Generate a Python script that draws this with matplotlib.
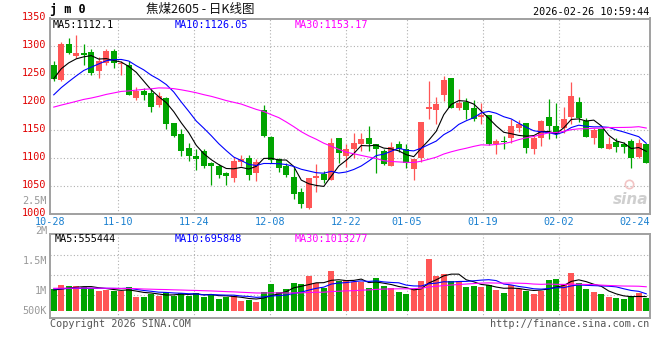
import matplotlib
matplotlib.use("Agg")
import matplotlib.pyplot as plt
import matplotlib.transforms as mtransforms
import numpy as np
import pandas as pd

plt.rcParams['font.family'] = ['DejaVu Sans Mono']

# trading days 2025-10-28 .. 2026-02-26 (new year + spring festival closed)
holidays = ['2026-01-01', '2026-01-02', '2026-02-16', '2026-02-17', '2026-02-18',
            '2026-02-19', '2026-02-20', '2026-02-23']
days = pd.bdate_range('2025-10-28', '2026-02-26')
days = days[~days.isin(pd.to_datetime(holidays))]

opens = [1266, 1239, 1304, 1283, 1288, 1290, 1256, 1271, 1292, 1268,
         1267, 1208, 1219, 1216, 1195, 1207, 1162, 1142, 1118, 1104,
         1113, 1091, 1086, 1072, 1064, 1093, 1099, 1073, 1186, 1138,
         1097, 1085, 1066, 1039, 1009, 1064, 1070, 1061, 1135, 1103,
         1115, 1125, 1136, 1124, 1112, 1086, 1125, 1115, 1079, 1100,
         1188, 1185, 1213, 1244, 1189, 1201, 1189, 1173, 1176, 1124,
         1131, 1135, 1154, 1163, 1115, 1136, 1173, 1157, 1154, 1173,
         1200, 1166, 1135, 1151, 1115, 1129, 1124, 1130, 1102, 1125]
highs = [1274, 1308, 1315, 1320, 1305, 1296, 1281, 1296, 1296, 1274,
         1273, 1227, 1225, 1225, 1218, 1210, 1163, 1151, 1127, 1115,
         1115, 1092, 1088, 1075, 1101, 1105, 1105, 1098, 1195, 1139,
         1100, 1090, 1082, 1045, 1063, 1088, 1076, 1135, 1135, 1124,
         1145, 1145, 1157, 1125, 1115, 1129, 1130, 1124, 1097, 1164,
         1237, 1210, 1246, 1244, 1224, 1207, 1204, 1198, 1176, 1133,
         1139, 1169, 1167, 1163, 1139, 1167, 1206, 1198, 1191, 1236,
         1209, 1171, 1154, 1151, 1137, 1135, 1129, 1133, 1133, 1125]
lows = [1237, 1237, 1286, 1280, 1267, 1248, 1244, 1266, 1262, 1249,
        1212, 1204, 1203, 1182, 1191, 1151, 1137, 1103, 1095, 1078,
        1081, 1052, 1064, 1052, 1057, 1085, 1061, 1059, 1138, 1090,
        1075, 1066, 1026, 1010, 1008, 1038, 1055, 1061, 1091, 1083,
        1100, 1112, 1112, 1072, 1087, 1085, 1110, 1082, 1061, 1093,
        1169, 1161, 1202, 1189, 1186, 1169, 1166, 1161, 1123, 1106,
        1115, 1126, 1146, 1109, 1106, 1122, 1133, 1135, 1145, 1161,
        1164, 1138, 1124, 1117, 1115, 1111, 1109, 1081, 1100, 1090]
closes = [1241, 1304, 1288, 1288, 1285, 1252, 1273, 1292, 1271, 1271,
          1213, 1220, 1213, 1192, 1210, 1160, 1139, 1113, 1103, 1097,
          1085, 1085, 1069, 1068, 1094, 1098, 1070, 1093, 1139, 1096,
          1082, 1070, 1035, 1017, 1063, 1067, 1061, 1127, 1108, 1115,
          1127, 1133, 1124, 1115, 1088, 1120, 1115, 1090, 1097, 1164,
          1191, 1196, 1239, 1189, 1198, 1186, 1170, 1176, 1124, 1130,
          1129, 1157, 1161, 1117, 1135, 1166, 1157, 1142, 1169, 1210,
          1171, 1138, 1150, 1118, 1125, 1120, 1120, 1100, 1127, 1091]
volumes = [920e3, 1105e3, 1062e3, 1062e3, 1019e3, 933e3, 860e3, 890e3, 847e3, 847e3,
           1032e3, 602e3, 602e3, 718e3, 632e3, 817e3, 632e3, 774e3, 632e3, 774e3,
           602e3, 718e3, 503e3, 602e3, 632e3, 430e3, 460e3, 387e3, 817e3, 1148e3,
           817e3, 933e3, 1204e3, 1148e3, 1505e3, 1204e3, 963e3, 1707e3, 1277e3, 1320e3,
           1247e3, 1247e3, 963e3, 1393e3, 1062e3, 963e3, 817e3, 718e3, 920e3, 1277e3,
           2223e3, 1505e3, 1578e3, 1277e3, 1277e3, 1006e3, 1075e3, 1006e3, 1105e3, 890e3,
           748e3, 1105e3, 933e3, 847e3, 718e3, 847e3, 1320e3, 1363e3, 1148e3, 1621e3,
           1178e3, 933e3, 804e3, 718e3, 602e3, 559e3, 503e3, 632e3, 774e3, 559e3]

# sessions before 10-28, only needed so the moving averages start filled
prev_close = [1195, 1190, 1185, 1180, 1178, 1182, 1188, 1192, 1190,
              1185, 1178, 1170, 1165, 1160, 1168, 1172, 1175, 1178, 1180, 1188,
              1175, 1180, 1185, 1188, 1192,
              1215, 1235, 1252, 1267]
prev_vol = [950e3, 1020e3, 980e3, 900e3, 1050e3, 1000e3, 930e3, 960e3, 1010e3, 990e3,
            940e3, 1030e3, 970e3, 920e3, 1000e3, 980e3, 1010e3, 950e3, 1000e3, 960e3,
            1000e3, 950e3, 1020e3, 960e3, 950e3,
            900e3, 860e3, 880e3, 890e3]

tick_labels = ['10-28', '11-10', '11-24', '12-08', '12-22', '01-05', '01-19', '02-02', '02-24']
grid_labels = ['11-10', '11-24', '12-08', '12-22', '01-05', '01-19', '02-02']
price_ticks = [1000, 1050, 1100, 1150, 1200, 1250, 1300, 1350]

RED = '#ff5656'
GREEN = '#00a400'
BLUE_TXT = '#1a80d0'
GRID = '#b0b0b0'
FRAME = '#a0a0a0'

W, H = 660, 360


def fx(px):
    return px / W


def fy(py):
    return 1 - py / H


def ma(prev, vals, n):
    s = pd.Series(list(prev) + list(vals)).rolling(n).mean().values
    return s[len(prev):]


fig = plt.figure(figsize=(6.6, 3.6), dpi=100)
ax = fig.add_axes([fx(50), fy(213.5), 600 / W, 195 / H])
axv = fig.add_axes([fx(50), fy(318.3), 600 / W, 84 / H])

n = len(closes)
x = np.arange(n)
o = np.array(opens, float)
h = np.array(highs, float)
l = np.array(lows, float)
c = np.array(closes, float)
col = np.where(c >= o, RED, GREEN)

date_str = [d.strftime('%m-%d') for d in days]
# sina spreads its date grid over n-1 steps, candles over n slots
def grid_x(lab):
    return date_str.index(lab) * n / (n - 1) - 0.5

for a in (ax, axv):
    for lab in grid_labels:
        a.axvline(grid_x(lab), color=GRID, lw=0.8, ls=(0, (1, 2)), zorder=0)
    for s in a.spines.values():
        s.set_color(FRAME)
        s.set_linewidth(1.4)
    a.set_xlim(-0.5, n - 0.5)
    a.set_xticks([])

for p in price_ticks[1:-1]:
    ax.axhline(p, color=GRID, lw=0.8, ls=(0, (1, 2)), zorder=0)

# candles
ax.vlines(x, l, h, colors=col, lw=0.9, zorder=2)
body = np.maximum(np.abs(c - o), 0.9)
ax.bar(x, body, bottom=np.minimum(o, c), width=0.8, color=col, lw=0, zorder=3)

ax.plot(x, ma(prev_close, closes, 5), color='black', lw=0.8, zorder=4)
ax.plot(x, ma(prev_close, closes, 10), color='#0000ff', lw=0.8, zorder=4)
ax.plot(x, ma(prev_close, closes, 30), color='#ff00ff', lw=0.8, zorder=4)

ax.set_ylim(1000, 1350)
ax.set_yticks(price_ticks)
ax.tick_params(axis='y', length=0, pad=3, labelcolor='#e00000', labelsize=7.3)
# labels sit a little above their grid lines, as in the original
lift = mtransforms.ScaledTranslation(0, 2 / 100, fig.dpi_scale_trans)
for t in ax.get_yticklabels():
    t.set_transform(t.get_transform() + lift)

for lab in tick_labels:
    ax.text(grid_x(lab), -0.042, lab, transform=ax.get_xaxis_transform(),
            ha='center', va='center', color=BLUE_TXT, fontsize=7.3)

ax.text(0.004, 0.965, 'MA5:1112.1', transform=ax.transAxes, color='black', fontsize=7.3, va='center')
ax.text(0.207, 0.965, 'MA10:1126.05', transform=ax.transAxes, color='#0000ff', fontsize=7.3, va='center')
ax.text(0.408, 0.965, 'MA30:1153.17', transform=ax.transAxes, color='#ff00ff', fontsize=7.3, va='center')

# sina watermark
ax.text(0.997, 0.07, 'sina', transform=ax.transAxes, ha='right', va='center',
        color='#cfcfcf', fontsize=11, fontweight='bold', fontstyle='italic',
        family=['DejaVu Sans'])
ax.plot([0.965], [0.15], transform=ax.transAxes, marker='o', ms=6,
        mfc='none', mec='#f2c4c4', mew=1.2)

# volume
v = np.array(volumes)
vol_grid = [675e3, 1.535e6, 2.395e6]
for g in vol_grid:
    axv.axhline(g, color=GRID, lw=0.8, ls=(0, (1, 2)), zorder=0)
axv.bar(x, v, width=0.8, color=col, lw=0, zorder=2)
axv.plot(x, ma(prev_vol, volumes, 5), color='black', lw=0.8, zorder=3)
axv.plot(x, ma(prev_vol, volumes, 10), color='#0000ff', lw=0.8, zorder=3)
axv.plot(x, ma(prev_vol, volumes, 30), color='#ff00ff', lw=0.8, zorder=3)
axv.set_ylim(-327e3, 3.285e6)
axv.set_yticks([])

axv.text(0.007, 0.95, 'MA5:555444', transform=axv.transAxes, color='black', fontsize=7.3, va='center')
axv.text(0.208, 0.95, 'MA10:695848', transform=axv.transAxes, color='#0000ff', fontsize=7.3, va='center')
axv.text(0.408, 0.95, 'MA30:1013277', transform=axv.transAxes, color='#ff00ff', fontsize=7.3, va='center')

for lab, py in [('2.5M', 200.7), ('2M', 230.7), ('1.5M', 260.7), ('1M', 290.7), ('500K', 310.7)]:
    fig.text(fx(47), fy(py), lab, ha='right', va='center', color='#999999', fontsize=7.3)

# header / footer
fig.text(fx(50), fy(10), 'j m 0', ha='left', va='center', fontsize=8.5, fontweight='bold', color='black')
fig.text(fx(200), fy(9.5), '焦煤2605 - 日K线图', ha='center', va='center', fontsize=9,
         color='#111111', family=['Noto Sans CJK SC', 'DejaVu Sans'])
fig.text(fx(649), fy(12), '2026-02-26 10:59:44', ha='right', va='center', fontsize=7.3, color='black')
fig.text(fx(50), fy(324), 'Copyright 2026 SINA.COM', ha='left', va='center', fontsize=7.3, color='#555555')
fig.text(fx(649), fy(324), 'http://finance.sina.com.cn', ha='right', va='center', fontsize=7.3, color='#555555')

fig.savefig('out.png', dpi=100)
